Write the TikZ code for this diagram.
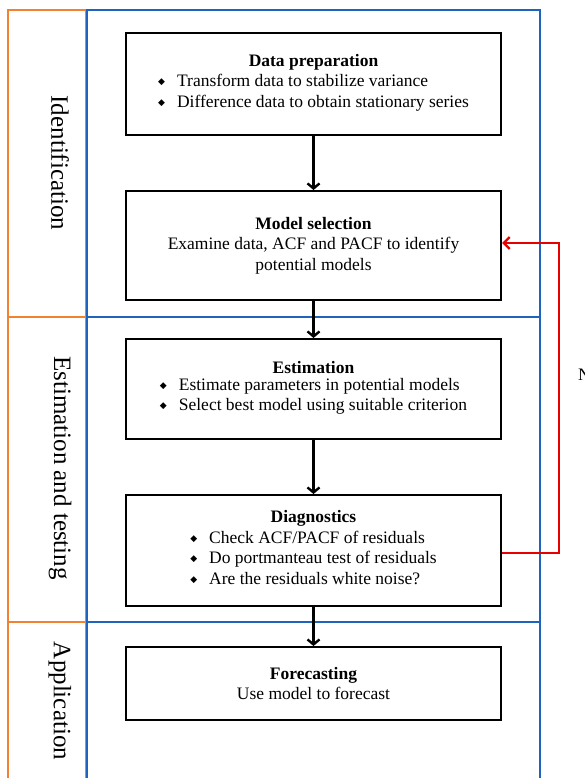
\documentclass[tikz,border=0pt]{standalone}
\usepackage{fontspec}
\setmainfont{Liberation Serif}
\newfontfamily\djsym{DejaVu Sans}
\newcommand\mybul{\raisebox{2pt}{\djsym\fontsize{9}{10}\selectfont\char"25C6}}
\usetikzlibrary{arrows.meta}
\definecolor{lorange}{RGB}{240,130,50}
\definecolor{lblue}{RGB}{30,100,190}
\definecolor{lred}{RGB}{230,0,0}
\begin{document}
\begin{tikzpicture}[x=1pt,y=-1pt,
  stepbox/.style={draw=black,line width=2pt,minimum width=375pt,anchor=north west,inner sep=0pt,align=center,font=\fontsize{17.5}{20.5}\selectfont},
  lane/.style={font=\fontsize{25}{28}\selectfont,rotate=-90},
  flow/.style={-{Straight Barb[length=5pt,width=12pt]},line width=2.4pt},
  back/.style={-{Straight Barb[length=6pt,width=12pt]},line width=2.4pt,draw=lred}]
\useasboundingbox (0,0) rectangle (585,778);
% lane frames
\draw[lorange,line width=2.4pt] (8,790) -- (8,10) -- (86,10) -- (86,790);
\draw[lorange,line width=2.4pt] (8,317) -- (86,317) (8,622) -- (86,622);
\draw[lblue,line width=2pt] (87,790) -- (87,10) -- (540,10) -- (540,790);
\draw[lblue,line width=2pt] (87,317) -- (540,317) (87,622) -- (540,622);
% lane labels
\node[lane] (lid) at (60,163) {Identification};
\node[lane] (lest) at (60,468) {Estimation and testing};
\node[lane] (lapp) at (60,701) {Application};
% boxes
\node[stepbox,minimum height=102pt] (prep) at (125,32) {\textbf{Data preparation}\\[1pt]
  \begin{tabular}{@{}l@{\hspace{12pt}}l@{}}\mybul & Transform data to stabilize variance\\ \mybul & Difference data to obtain stationary series\end{tabular}};
\node[stepbox,minimum height=109pt] (sel) at (125,190) {\textbf{Model selection}\\ Examine data, ACF and PACF to identify\\ potential models};
\node[stepbox,minimum height=100pt] (est) at (125,338) {\textbf{Estimation}\\[1pt]
  \begin{tabular}{@{}l@{\hspace{12pt}}l@{}}\mybul & Estimate parameters in potential models\\ \mybul & Select best model using suitable criterion\end{tabular}};
\node[stepbox,minimum height=111pt] (diag) at (125,494) {\textbf{Diagnostics}\\[1pt]
  \begin{tabular}{@{}l@{\hspace{12pt}}l@{}}\mybul & Check ACF/PACF of residuals\\ \mybul & Do portmanteau test of residuals\\ \mybul & Are the residuals white noise?\end{tabular}};
\node[stepbox,minimum height=73pt] (fore) at (125,646) {\textbf{Forecasting}\\ Use model to forecast};
% flow arrows
\draw[flow] (prep.south) -- (sel.north);
\draw[flow] (sel.south) -- (est.north);
\draw[flow] (est.south) -- (diag.north);
\draw[flow] (diag.south) -- (fore.north);
% feedback
\coordinate (fb1) at (559,553);
\coordinate (fb2) at (559,243);
\draw[back] (diag.east |- fb1) -- (fb1) -- (fb2) -- (sel.east |- fb2);
\node[anchor=west,inner sep=0pt,font=\fontsize{17.5}{20}\selectfont] (no) at (578,375) {No};
\end{tikzpicture}
\end{document}
